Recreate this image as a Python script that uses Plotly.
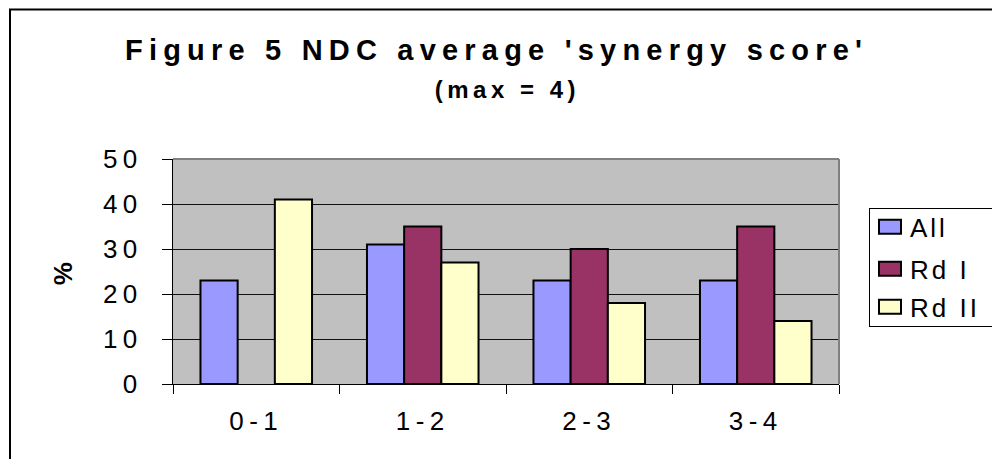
import plotly.graph_objects as go

categories = ["0-1", "1-2", "2-3", "3-4"]
all_vals = [23, 31, 23, 23]
rd1_vals = [None, 35, 30, 35]
rd2_vals = [41, 27, 18, 14]
series_names = ["All", "Rd I", "Rd II"]
colors = ["#9999FF", "#993366", "#FFFFCC"]
title_text = "Figure 5 NDC average 'synergy score'"
subtitle_text = "(max = 4)"
y_label = "%"

W, H = 992, 459
L, R, T, B = 173, 839, 159, 384  # plot area pixel box

fig = go.Figure()
for i, (name, vals) in enumerate(zip(series_names, [all_vals, rd1_vals, rd2_vals])):
    fig.add_trace(go.Bar(
        x=categories, y=vals, name=name,
        marker=dict(color=colors[i], line=dict(color="black", width=2)),
    ))

def px_x(p):
    return (p - L) / (R - L)

def px_y(p):
    return (B - p) / (B - T)

font = "Liberation Sans, Arial, sans-serif"

fig.update_layout(
    width=W, height=H,
    margin=dict(l=L, r=W - R, t=T, b=H - B, autoexpand=False),
    paper_bgcolor="white",
    plot_bgcolor="#C0C0C0",
    barmode="group",
    bargap=0.33,
    bargroupgap=0,
    font=dict(family=font, color="black", size=26),
    title=dict(
        text="<b>" + title_text + "</b>",
        x=496.6 / W, xanchor="center", xref="container",
        y=1 - 50 / H, yanchor="middle", yref="container",
        font=dict(size=29, family=font),
    ),
    xaxis=dict(
        type="category", showgrid=False, showline=True, linecolor="black", linewidth=1,
        ticks="outside", tickson="boundaries", ticklen=9, tickcolor="black",
        ticklabelstandoff=14, tickfont=dict(size=26),
    ),
    yaxis=dict(
        range=[0, 50], dtick=10, showgrid=True, gridcolor="#111111", gridwidth=1,
        showline=True, linecolor="black", linewidth=1, ticks="outside", ticklen=10,
        tickcolor="black", ticklabelstandoff=14, tickfont=dict(size=26), zeroline=False,
    ),
    legend=dict(
        x=px_x(869), y=px_y(208), xanchor="left", yanchor="top",
        bordercolor="black", borderwidth=1, bgcolor="white",
        font=dict(size=26), tracegroupgap=0, traceorder="normal",
    ),
    showlegend=True,
    annotations=[
        dict(text="<b>" + subtitle_text + "</b>", xref="paper", yref="paper",
             x=px_x(507), y=px_y(89), xanchor="center", yanchor="middle",
             showarrow=False, font=dict(size=24, family=font)),
        dict(text="<b>" + y_label + "</b>", xref="paper", yref="paper",
             x=px_x(63), y=px_y(272), xanchor="center", yanchor="middle",
             textangle=-90, showarrow=False, font=dict(size=26, family=font)),
    ],
    shapes=[
        # outer chart border
        dict(type="rect", xref="paper", yref="paper",
             x0=px_x(10), x1=px_x(1010), y0=px_y(480), y1=px_y(9.5),
             line=dict(color="black", width=2), fillcolor="rgba(0,0,0,0)", layer="below"),
        # plot area top and right gray border
        dict(type="line", xref="paper", yref="paper", x0=0, x1=1, y0=1, y1=1,
             line=dict(color="#808080", width=2)),
        dict(type="line", xref="paper", yref="paper", x0=1, x1=1, y0=0, y1=1,
             line=dict(color="#808080", width=2)),
    ],
)

post = """
document.body.style.margin = '0';
var gd = document.getElementById('{plot_id}');
function sp(sel, v) { gd.querySelectorAll(sel).forEach(function(t){ t.style.letterSpacing = v; }); }
sp('.xtick text', '5.5px');
sp('.ytick text', '5.5px');
sp('.gtitle', '6.2px');
sp('.legendtext', '3px');
sp('.annotation-text', '4.5px');
gd.querySelectorAll('.legend .scrollbox').forEach(function(e){ e.removeAttribute('clip-path'); });
gd.querySelectorAll('.legend').forEach(function(e){ e.removeAttribute('clip-path'); });
gd.querySelectorAll('.legendpoints path').forEach(function(e){ e.setAttribute('d', 'M11,7H-11V-7H11Z'); });
gd.querySelectorAll('.legend rect.bg').forEach(function(rect){
  var b = rect.getBoundingClientRect();
  var y0 = parseFloat(rect.getAttribute('y') || '0');
  rect.setAttribute('y', y0 + (208 - b.top));
  rect.setAttribute('height', 118);
  rect.setAttribute('width', 200);
});
var targets = [228, 270, 308];
gd.querySelectorAll('.legend .traces').forEach(function(g, i){
  var t = g.querySelector('.legendtext');
  if (!t || i >= targets.length) return;
  var b = t.getBoundingClientRect();
  var c = (b.top + b.bottom) / 2;
  var tr = g.getAttribute('transform') || 'translate(0,0)';
  var m = tr.match(/translate\\(([-\\d.e]+)[ ,]+([-\\d.e]+)\\)/);
  var x = m ? parseFloat(m[1]) : 0, y = m ? parseFloat(m[2]) : 0;
  g.setAttribute('transform', 'translate(' + x + ',' + (y + targets[i] - c) + ')');
});
"""

fig.write_html("out.html", post_script=post, config={"displayModeBar": False})
